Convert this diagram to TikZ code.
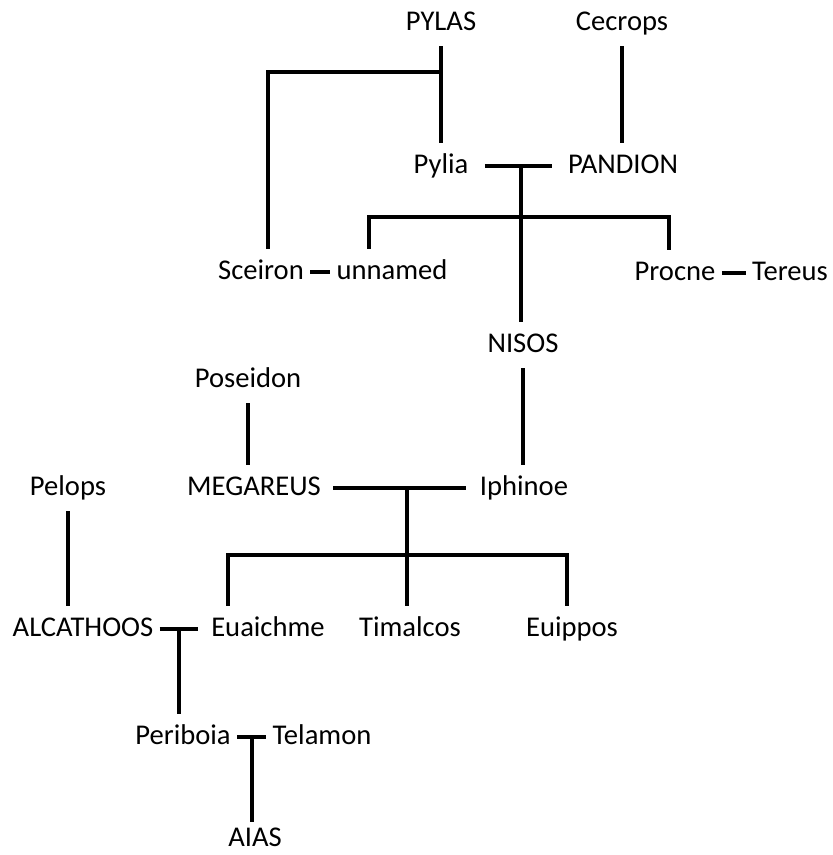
\documentclass[tikz,border=0pt]{standalone}
\usepackage{fontspec}
\setmainfont{Carlito}

\tikzstyle{person} = [rectangle, font=\fontsize{14.3pt}{17pt}\selectfont,
    text height=10pt, text depth=2.9pt, inner xsep=3pt, inner ysep=5pt]
\tikzstyle{knot} = [coordinate]
\tikzstyle{tie} = [draw, line width=1.9pt]

\begin{document}
\begin{tikzpicture}[x=0.5pt, y=-0.5pt]
    \useasboundingbox (0,0) rectangle (832,855);

    \node[person] at (441,23) (pylas) {PYLAS};
    \node[person] at (622,23) (cecrops) {Cecrops};
    \node[person] at (441,166) (pylia) {Pylia};
    \node[person] at (623,166) (pandion) {PANDION};
    \node[person] at (261,272) (sceiron) {Sceiron};
    \node[person] at (392,272) (unnamed) {unnamed};
    \node[person] at (675,273) (procne) {Procne};
    \node[person] at (790,273) (tereus) {Tereus};
    \node[person] at (523,345) (nisos) {NISOS};
    \node[person] at (248,380) (poseidon) {Poseidon};
    \node[person] at (68,488) (pelops) {Pelops};
    \node[person] at (254,488) (megareus) {MEGAREUS};
    \node[person] at (524,488) (iphinoe) {Iphinoe};
    \node[person] at (83,629) (alcathoos) {ALCATHOOS};
    \node[person] at (268,629) (euaichme) {Euaichme};
    \node[person] at (410,629) (timalcos) {Timalcos};
    \node[person] at (572,629) (euippos) {Euippos};
    \node[person] at (183,737) (periboia) {Periboia};
    \node[person] at (322,737) (telamon) {Telamon};
    \node[person, text depth=0pt, inner ysep=2pt] at (255,836) (aias) {AIAS};

    \node [knot, name=j1] at (441,72) {};
    \node [knot, name=c1] at (268,72) {};
    \node [knot, name=j2] at (521,166) {};
    \node [knot, name=b1] at (369,217) {};
    \node [knot, name=b2] at (669,217) {};
    \node [knot, name=j3] at (407,488) {};
    \node [knot, name=b3] at (228,555) {};
    \node [knot, name=b4] at (567,555) {};
    \node [knot, name=j4] at (179,629) {};
    \node [knot, name=j5] at (252,737) {};

    \draw [tie] (pylas.south) -- (pylas.south |- pylia.north);
    \draw [tie] (j1) -- (c1) -- (c1 |- sceiron.north);
    \draw [tie] (cecrops.south) -- (cecrops.south |- pandion.north);
    \draw [tie, shorten <=5pt, shorten >=5pt] (pylia) -- (pandion);
    \draw [tie] (j2) -- (j2 |- nisos.north);
    \draw [tie] (b1 |- unnamed.north) -- (b1) -- (b2) -- (b2 |- procne.north);
    \draw [tie] (sceiron) -- (unnamed);
    \draw [tie] (procne) -- (tereus);
    \draw [tie] (nisos.south) -- (nisos.south |- iphinoe.north);
    \draw [tie] (poseidon.south) -- (poseidon.south |- megareus.north);
    \draw [tie] (pelops.south) -- (pelops.south |- alcathoos.north);
    \draw [tie, shorten <=3pt, shorten >=4pt] (megareus) -- (iphinoe);
    \draw [tie] (j3) -- (j3 |- timalcos.north);
    \draw [tie] (b3 |- euaichme.north) -- (b3) -- (b4) -- (b4 |- euippos.north);
    \draw [tie, shorten >=3.5pt] (alcathoos) -- (euaichme);
    \draw [tie] (j4) -- (j4 |- periboia.north);
    \draw [tie] (periboia) -- (telamon);
    \draw [tie] (j5) -- (j5 |- aias.north);
\end{tikzpicture}
\end{document}
